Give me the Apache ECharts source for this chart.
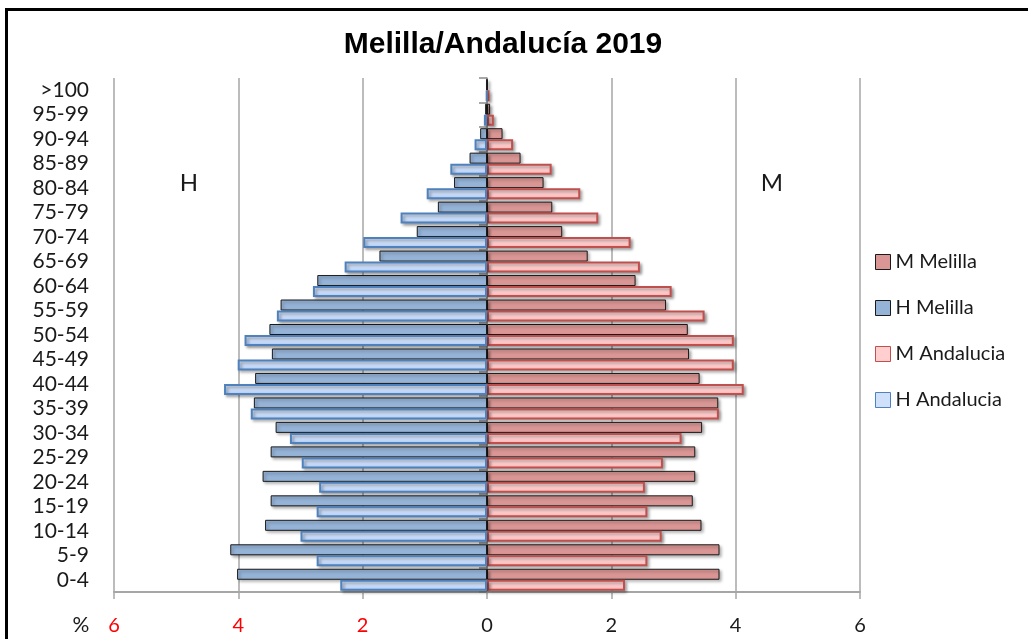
<!DOCTYPE html>
<html>
<head>
<meta charset="utf-8">
<title>Melilla/Andalucía 2019</title>
<script src="https://cdn.jsdelivr.net/npm/echarts@6/dist/echarts.min.js"></script>
<style>
  html, body { margin: 0; padding: 0; background: #fff; }
  #chart { width: 1028px; height: 639px; }
</style>
</head>
<body>
<div id="chart"></div>
<script>
// Age groups, bottom to top
const categories = ['0-4', '5-9', '10-14', '15-19', '20-24', '25-29', '30-34', '35-39', '40-44', '45-49',
  '50-54', '55-59', '60-64', '65-69', '70-74', '75-79', '80-84', '85-89', '90-94', '95-99', '>100'];

// Share of total population (%) by age group
const hMelilla    = [4.02, 4.13, 3.57, 3.48, 3.61, 3.48, 3.40, 3.75, 3.73, 3.46, 3.50, 3.32, 2.73, 1.73, 1.13, 0.79, 0.53, 0.28, 0.11, 0.03, 0.01];
const hAndalucia  = [2.36, 2.74, 3.00, 2.74, 2.70, 2.98, 3.17, 3.80, 4.23, 4.01, 3.90, 3.38, 2.80, 2.29, 1.99, 1.39, 0.97, 0.59, 0.20, 0.05, 0.01];
const mMelilla    = [3.74, 3.74, 3.45, 3.31, 3.35, 3.35, 3.46, 3.72, 3.42, 3.25, 3.23, 2.88, 2.39, 1.62, 1.21, 1.05, 0.91, 0.54, 0.25, 0.05, 0.01];
const mAndalucia  = [2.22, 2.58, 2.81, 2.58, 2.54, 2.83, 3.13, 3.73, 4.13, 3.97, 3.97, 3.50, 2.97, 2.46, 2.31, 1.79, 1.50, 1.04, 0.42, 0.11, 0.04];

const FONT = 'Lato, "Open Sans", sans-serif';
const chart = echarts.init(document.getElementById('chart'), null, { renderer: 'canvas' });

const shadow = { shadowColor: 'rgba(0,0,0,0.35)', shadowBlur: 3, shadowOffsetX: 2, shadowOffsetY: 2 };
const noShadow = { shadowColor: 'rgba(0,0,0,0)', shadowBlur: 0, shadowOffsetX: 0, shadowOffsetY: 0 };
const grad = (top, bottom) => new echarts.graphic.LinearGradient(0, 0, 0, 1, [
  { offset: 0, color: top }, { offset: 1, color: bottom }
]);

const base = {
  mMel: { color: '#d99694', borderColor: '#1a1a1a', borderWidth: 1 },
  hMel: { color: '#95b3d7', borderColor: '#1a1a1a', borderWidth: 1 },
  mAnd: { color: grad('#ffe3e3', '#ffb6b6'), borderColor: '#c0504d', borderWidth: 2 },
  hAnd: { color: grad('#e3eeff', '#b3cdf5'), borderColor: '#4f81bd', borderWidth: 2 }
};
const barStyle = k => Object.assign({}, base[k], shadow);
const legendStyle = (k, fill) => Object.assign({}, base[k], noShadow, { color: fill, borderWidth: 1 });

const neg = arr => arr.map(v => -v);
const barW = 11;

chart.setOption({
  animation: false,
  backgroundColor: '#fff',
  grid: { left: 114, right: 168, top: 78, bottom: 47, containLabel: false },
  legend: {
    orient: 'vertical',
    left: 870,
    top: 247,
    itemWidth: 15,
    itemHeight: 15,
    itemGap: 26,
    icon: 'rect',
    data: [
      { name: 'M Melilla', itemStyle: legendStyle('mMel', '#d99694') },
      { name: 'H Melilla', itemStyle: legendStyle('hMel', '#95b3d7') },
      { name: 'M Andalucia', itemStyle: legendStyle('mAnd', '#ffcfcf') },
      { name: 'H Andalucia', itemStyle: legendStyle('hAnd', '#cfe0fb') }
    ],
    textStyle: { fontFamily: FONT, fontSize: 20, color: '#1a1a1a', lineHeight: 20 }
  },
  xAxis: {
    type: 'value',
    min: -6,
    max: 6,
    interval: 2,
    axisLine: { show: true, lineStyle: { color: '#a6a6a6', width: 2 } },
    axisTick: { show: true, length: 7, lineStyle: { color: '#a6a6a6', width: 1.5 } },
    splitLine: { show: true, lineStyle: { color: '#a6a6a6', width: 1.5 } },
    axisLabel: {
      margin: 24,
      fontFamily: FONT,
      fontSize: 20,
      formatter: v => String(Math.abs(v)),
      color: v => (Number(v) < 0 ? '#ff0000' : '#1a1a1a')
    }
  },
  yAxis: [
    {
      type: 'category',
      data: categories,
      position: 'left',
      axisLine: { show: false, onZero: false },
      axisTick: { show: false },
      splitLine: { show: false },
      axisLabel: { interval: 0, margin: 25, fontFamily: FONT, fontSize: 21, color: '#1a1a1a' }
    },
    {
      type: 'category',
      data: categories,
      position: 'left',
      axisLine: { show: true, onZero: true, lineStyle: { color: '#8c8c8c', width: 1.5 } },
      axisTick: { show: true, interval: 0, length: 8, lineStyle: { color: '#8c8c8c', width: 1.5 } },
      axisLabel: { show: false },
      splitLine: { show: false }
    }
  ],
  series: [
    { name: 'M Melilla', type: 'bar', stack: 'mel', yAxisIndex: 0, barWidth: barW, barGap: '0%', data: mMelilla, itemStyle: barStyle('mMel') },
    { name: 'H Melilla', type: 'bar', stack: 'mel', yAxisIndex: 0, barWidth: barW, barGap: '0%', data: neg(hMelilla), itemStyle: barStyle('hMel') },
    { name: 'M Andalucia', type: 'bar', stack: 'and', yAxisIndex: 0, barWidth: barW, barGap: '0%', data: mAndalucia, itemStyle: barStyle('mAnd') },
    { name: 'H Andalucia', type: 'bar', stack: 'and', yAxisIndex: 0, barWidth: barW, barGap: '0%', data: neg(hAndalucia), itemStyle: barStyle('hAnd') }
  ],
  graphic: [
    // Frame edges
    { type: 'line', shape: { x1: 6.5, y1: 9, x2: 6.5, y2: 639 }, style: { stroke: '#000', lineWidth: 3 } },
    { type: 'line', shape: { x1: 5, y1: 9.5, x2: 1028, y2: 9.5 }, style: { stroke: '#000', lineWidth: 3 } },
    {
      type: 'text', x: 503, y: 45,
      style: { text: 'Melilla/Andalucía 2019', fontFamily: '"Liberation Sans", Arial, sans-serif', fontWeight: 'bold', fontSize: 30, fill: '#000', textAlign: 'center', textVerticalAlign: 'middle' }
    },
    { type: 'text', x: 189, y: 183, style: { text: 'H', fontFamily: FONT, fontSize: 24, fill: '#1a1a1a', textAlign: 'center', textVerticalAlign: 'middle' } },
    { type: 'text', x: 772, y: 183, style: { text: 'M', fontFamily: FONT, fontSize: 24, fill: '#1a1a1a', textAlign: 'center', textVerticalAlign: 'middle' } },
    { type: 'text', x: 81, y: 625, style: { text: '%', fontFamily: FONT, fontSize: 21, fill: '#1a1a1a', textAlign: 'center', textVerticalAlign: 'middle' } }
  ]
});
</script>
</body>
</html>
